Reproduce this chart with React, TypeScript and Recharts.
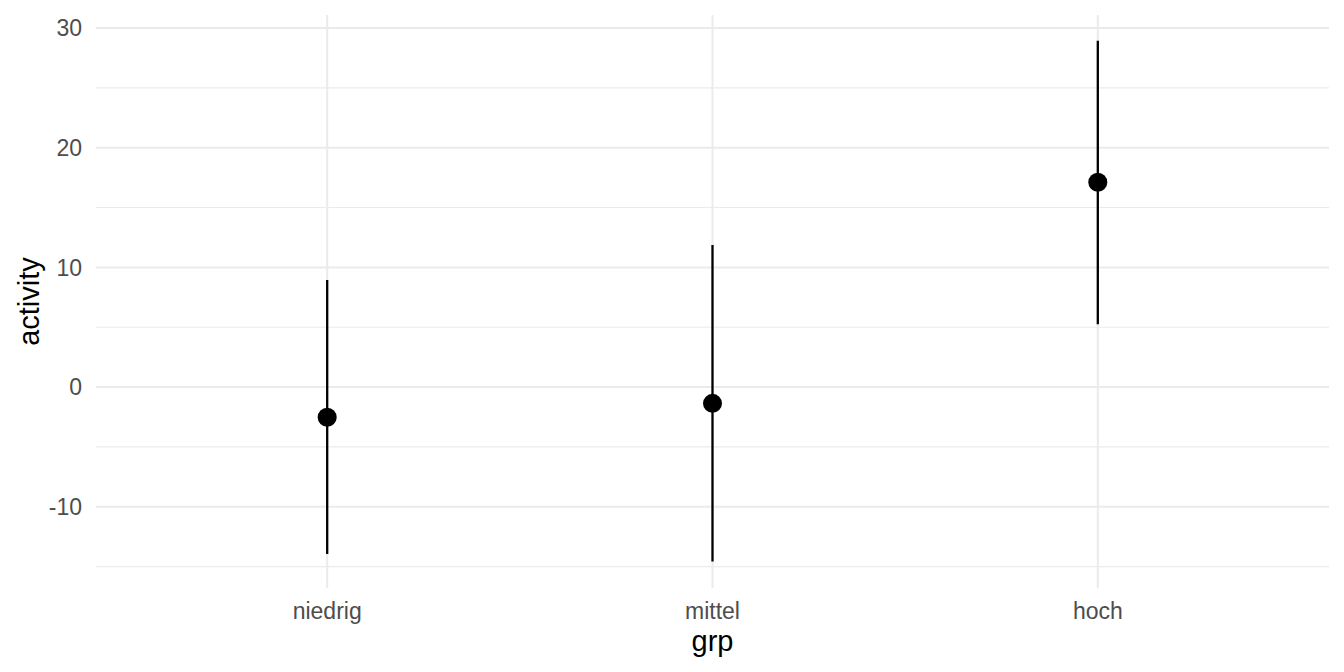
import {
  ErrorBar,
  ReferenceLine,
  Scatter,
  ScatterChart,
  XAxis,
  YAxis,
} from 'recharts';

const groups = ['niedrig', 'mittel', 'hoch'];
const means = [-2.52, -1.36, 17.11];
const lows = [-13.94, -14.58, 5.25];
const highs = [8.95, 11.87, 28.94];

const xTicks = [1, 2, 3];
const yTicks = [-10, 0, 10, 20, 30];
const yMinor = [-15, -5, 5, 15, 25];
const yDomain = [-16.79, 31.09];

const FONT = 'Liberation Sans, Arial, sans-serif';
const GRID = '#EBEBEB';

const data = groups.map((g, i) => ({
  x: i + 1,
  grp: g,
  y: means[i],
  err: [means[i] - lows[i], highs[i] - means[i]],
}));

export default function App() {
  return (
    <div style={{ position: 'absolute', left: 0, top: 0, background: '#fff' }}>
      <ScatterChart
        width={1344}
        height={672}
        margin={{ top: 15, right: 15, bottom: 54, left: 0 }}
      >
        {/* grid: minor first, then major on top */}
        {yMinor.map((v) => (
          <ReferenceLine key={`m${v}`} y={v} stroke={GRID} strokeWidth={1.1} />
        ))}
        {yTicks.map((v) => (
          <ReferenceLine key={`y${v}`} y={v} stroke={GRID} strokeWidth={2} />
        ))}
        {xTicks.map((v) => (
          <ReferenceLine key={`x${v}`} x={v} stroke={GRID} strokeWidth={2} />
        ))}
        <XAxis
          type="number"
          dataKey="x"
          height={30}
          domain={[0.4, 3.6]}
          ticks={xTicks}
          tickFormatter={(v: number) => groups[v - 1]}
          axisLine={false}
          tickLine={false}
          tickSize={6}
          tickMargin={9}
          tick={{ fontSize: 23, fill: '#4D4D4D', fontFamily: FONT }}
          label={{
            content: ({ viewBox }: any) => (
              <text
                x={viewBox.x + viewBox.width / 2}
                y={viewBox.y + 63}
                textAnchor="middle"
                fontSize={29}
                fontFamily={FONT}
                fill="#000"
              >
                grp
              </text>
            ),
          }}
        />
        <YAxis
          type="number"
          dataKey="y"
          width={96}
          domain={yDomain}
          ticks={yTicks}
          allowDataOverflow
          axisLine={false}
          tickLine={false}
          tickSize={6}
          tickMargin={8}
          tick={{ fontSize: 23, fill: '#4D4D4D', fontFamily: FONT }}
          label={{
            content: ({ viewBox }: any) => {
              const cx = viewBox.x + 29;
              const cy = viewBox.y + viewBox.height / 2;
              return (
                <text
                  x={cx}
                  y={cy}
                  transform={`rotate(-90, ${cx}, ${cy})`}
                  textAnchor="middle"
                  dominantBaseline="central"
                  fontSize={29}
                  fontFamily={FONT}
                  fill="#000"
                >
                  activity
                </text>
              );
            },
          }}
        />
        <Scatter
          data={data}
          fill="#000"
          isAnimationActive={false}
          shape={(p: any) => <circle cx={p.cx} cy={p.cy} r={9.5} fill="#000" />}
        >
          <ErrorBar
            dataKey="err"
            direction="y"
            width={0}
            stroke="#000"
            strokeWidth={2.3}
            isAnimationActive={false}
          />
        </Scatter>
      </ScatterChart>
    </div>
  );
}
